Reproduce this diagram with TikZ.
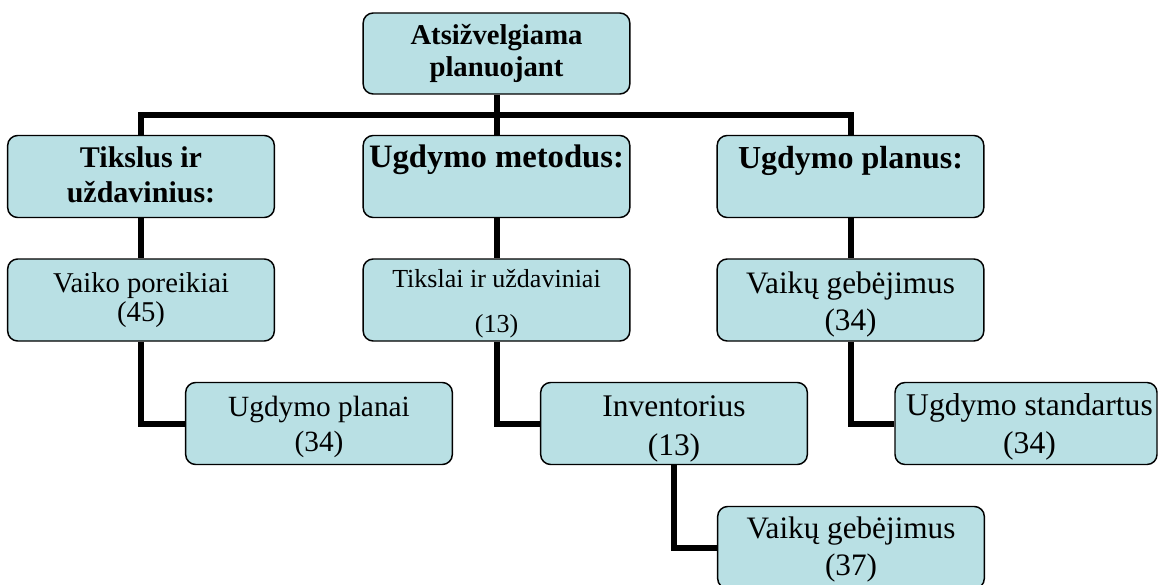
\documentclass[tikz,border=0pt]{standalone}
\usepackage{fontspec}
\setmainfont{Liberation Serif}
\usetikzlibrary{backgrounds}
\definecolor{boxc}{RGB}{185,224,228}
\newcommand\myfs[1]{\fontsize{#1}{#1}\selectfont}
\begin{document}
\begin{tikzpicture}[x=0.75pt,y=-0.75pt,
  box/.style={draw=black, line width=1.1pt, fill=boxc, rounded corners=7.5pt,
    inner sep=0pt, minimum width=200pt, minimum height=61.5pt},
  conn/.style={draw=black, line width=4.5pt, line join=miter},
  lbl/.style={anchor=base, inner sep=0pt, text=black},
  hb/.style={lbl, font=\bfseries}]
\useasboundingbox (0,0) rectangle (1158,585);

% boxes
\node[box, minimum height=60.75pt] (top) at (496.5,53.5) {};
\node[box] (l2a) at (141,176.5) {};
\node[box] (l2b) at (496.5,176.5) {};
\node[box] (l2c) at (850.5,176.5) {};
\node[box] (l3a) at (141,300) {};
\node[box] (l3b) at (496.5,300) {};
\node[box] (l3c) at (850.5,300) {};
\node[box] (l4a) at (319,423.5) {};
\node[box] (l4b) at (674,423.5) {};
\node[box, minimum width=196.5pt] (l4c) at (1026,423.5) {};
\node[box] (l5b) at (851,547.5) {};

% texts
\node[hb] (t1a) at (496.5,45) {\myfs{21.5}Atsižvelgiama};
\node[hb] (t1b) at (496.5,77) {\myfs{21.5}planuojant};
\node[hb] (t2a1) at (141,167) {\myfs{22.5}Tikslus ir};
\node[hb] (t2a2) at (141,202) {\myfs{22.5}uždavinius:};
\node[hb] (t2b) at (496.5,167) {\myfs{24.5}Ugdymo metodus:};
\node[hb] (t2c) at (850.5,169) {\myfs{24}Ugdymo planus:};
\node[lbl] (t3a1) at (141,292) {\myfs{21.5}Vaiko poreikiai};
\node[lbl] (t3a2) at (141,321) {\myfs{21.5}(45)};
\node[lbl] (t3b1) at (496.5,287) {\myfs{19.5}Tikslai ir uždaviniai};
\node[lbl] (t3b2) at (496.5,332) {\myfs{19.5}(13)};
\node[lbl] (t3c1) at (850.5,293) {\myfs{23.4}Vaikų gebėjimus};
\node[lbl] (t3c2) at (850.5,330) {\myfs{23.4}(34)};
\node[lbl] (t4a1) at (319,416) {\myfs{22}Ugdymo planai};
\node[lbl] (t4a2) at (319,451) {\myfs{22}(34)};
\node[lbl] (t4b1) at (674,416) {\myfs{23.6}Inventorius};
\node[lbl] (t4b2) at (674,455) {\myfs{23.6}(13)};
\node[lbl] (t4c1) at (1029.5,415) {\myfs{23.7}Ugdymo standartus};
\node[lbl] (t4c2) at (1029.5,453) {\myfs{23.7}(34)};
\node[lbl] (t5b1) at (851,538) {\myfs{23.4}Vaikų gebėjimus};
\node[lbl] (t5b2) at (851,575) {\myfs{23.4}(37)};

\coordinate (barR) at (850.5,115);

\begin{scope}[on background layer]
\fill[white] (0,0) rectangle (1158,585);
\draw[conn] (top.south) -- (l2b.north);
\draw[conn] (l2a.north) |- (barR) -- (l2c.north);
\draw[conn] (l2a.south) -- (l3a.north);
\draw[conn] (l2b.south) -- (l3b.north);
\draw[conn] (l2c.south) -- (l3c.north);
\draw[conn] (l3a.south) |- (l4a.west);
\draw[conn] (l3b.south) |- (l4b.west);
\draw[conn] (l3c.south) |- (l4c.west);
\draw[conn] (l4b.south) |- (l5b.west);
\end{scope}
\end{tikzpicture}
\end{document}
